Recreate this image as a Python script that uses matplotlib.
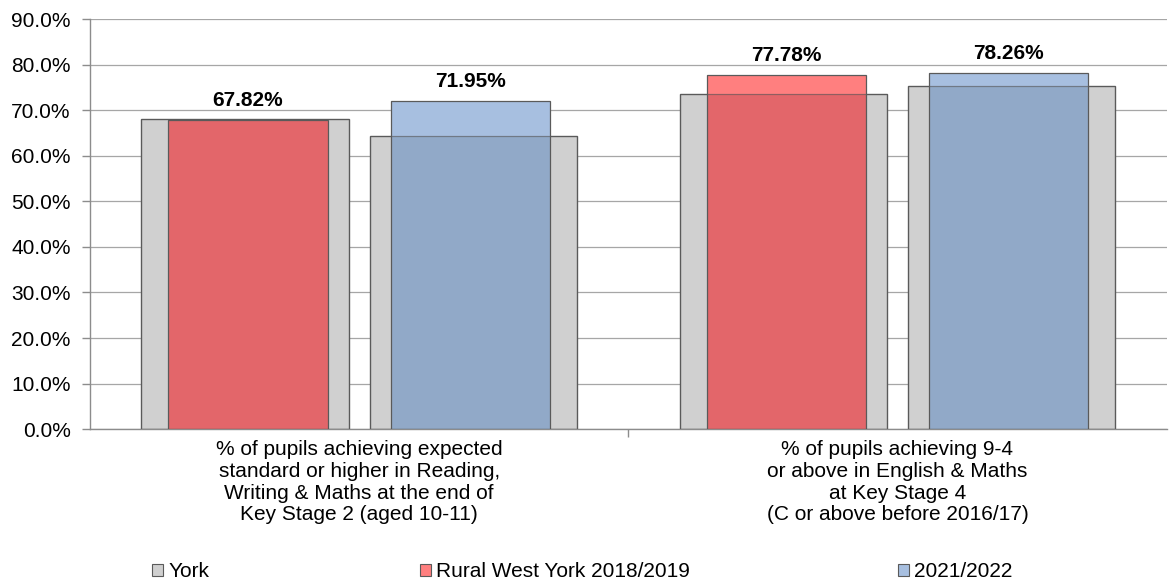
import matplotlib
matplotlib.use("Agg")
import matplotlib.pyplot as plt
from matplotlib.patches import Patch
import numpy as np

plt.rcParams['font.family'] = ['Liberation Sans', 'DejaVu Sans']

categories = [
    "% of pupils achieving expected\nstandard or higher in Reading,\nWriting & Maths at the end of\nKey Stage 2 (aged 10-11)",
    "% of pupils achieving 9-4\nor above in English & Maths\nat Key Stage 4\n(C or above before 2016/17)",
]
york_2018 = [68.0, 73.6]
york_2021 = [64.3, 75.3]
rural_2018 = [67.82, 77.78]
rural_2021 = [71.95, 78.26]
series_names = ["York", "Rural West York 2018/2019", "2021/2022"]
yticks = np.arange(0, 91, 10)

grey = "#D0D0D0"
red_light, red_dark = "#FF7F7F", "#E3666A"
blue_light, blue_dark = "#A7BFE0", "#91A9C8"
edge = "#5A5A5A"
fs = 15

fig = plt.figure(figsize=(11.69, 5.83), dpi=100)
ax = fig.add_axes([0.077, 0.264, 0.921, 0.703])

x = np.arange(len(categories))
york_w, col_w = 0.385, 0.296
york_off, col_off = 0.212, 0.2065

# background York bars
for vals, sign in ((york_2018, -1), (york_2021, 1)):
    ax.bar(x + sign * york_off, vals, york_w, color=grey, edgecolor=edge,
           linewidth=0.9, zorder=2)

# area comparison bars, darker where they overlap the York bars
for vals, yvals, sign, light, dark in ((rural_2018, york_2018, -1, red_light, red_dark),
                                       (rural_2021, york_2021, 1, blue_light, blue_dark)):
    pos = x + sign * col_off
    ax.bar(pos, vals, col_w, color=light, linewidth=0, zorder=3)
    ax.bar(pos, np.minimum(vals, yvals), col_w, color=dark, linewidth=0, zorder=3.1)
    ax.bar(pos, vals, col_w, facecolor="none", edgecolor=edge, linewidth=0.9, zorder=3.3)
    for p, v in zip(pos, vals):
        ax.text(p, v + 2.2, f"{v:.2f}%", ha="center", va="bottom",
                fontsize=fs, fontweight="bold", zorder=5)

# York outlines visible through the coloured bars
for vals, sign in ((york_2018, -1), (york_2021, 1)):
    ax.bar(x + sign * york_off, vals, york_w, facecolor="none", edgecolor=edge,
           linewidth=0.9, alpha=0.6, zorder=3.2)

ax.set_xlim(-0.5, 1.5)
ax.set_ylim(0, 90)
ax.set_yticks(yticks)
ax.set_yticklabels([f"{t:.1f}%" for t in yticks], fontsize=fs)
ax.yaxis.grid(True, color="#A6A6A6", linewidth=0.9)
ax.set_axisbelow(True)

ax.set_xticks([0.5])
ax.set_xticklabels([""])
ax.tick_params(axis="x", length=6, color="#8C8C8C", width=1)
ax.tick_params(axis="y", length=6, color="#8C8C8C", width=1, pad=8)
for s in ("top", "right"):
    ax.spines[s].set_visible(False)
for s in ("left", "bottom"):
    ax.spines[s].set_color("#8C8C8C")
    ax.spines[s].set_linewidth(1)

for xi, lab in zip(x, categories):
    ax.text(xi, -2.5, lab, ha="center", va="top", fontsize=fs, linespacing=1.17,
            transform=ax.transData)

handles = [Patch(facecolor=grey, edgecolor=edge, linewidth=0.8),
           Patch(facecolor=red_light, edgecolor=edge, linewidth=0.8),
           Patch(facecolor=blue_light, edgecolor=edge, linewidth=0.8)]
legend_x = [0.130, 0.359, 0.768]
for h, name, lx in zip(handles, series_names, legend_x):
    fig.legend([h], [name], loc="center left", bbox_to_anchor=(lx, 0.019),
               frameon=False, fontsize=fs, handlelength=0.55, handleheight=0.55,
               handletextpad=0.25, borderpad=0, borderaxespad=0)

fig.savefig("out.png", dpi=100)
